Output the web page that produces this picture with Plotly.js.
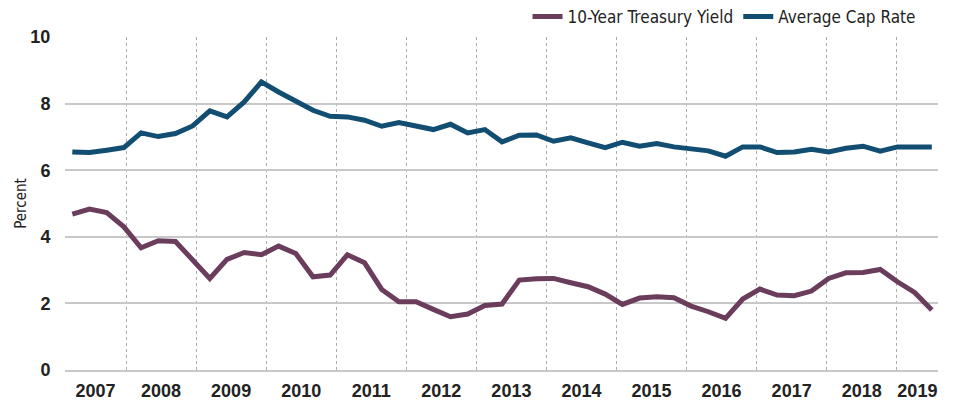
<!DOCTYPE html>
<html>
<head>
<meta charset="utf-8">
<script src="https://cdn.plot.ly/plotly-3.0.1.min.js"></script>
<style>html,body{margin:0;padding:0;background:#fff;}#chart{width:969px;height:400px;}</style>
</head>
<body>
<div id="chart"></div>
<script>
// Quarterly observations, 2007 Q1 through 2019 Q3
const years = [2007,2008,2009,2010,2011,2012,2013,2014,2015,2016,2017,2018,2019];
const quarters = [];
for (const y of years) for (let q = 1; q <= 4; q++) quarters.push(y + ' Q' + q);
quarters.length = 51;

const treasuryYield = [
  4.68,4.83,4.73,4.30, 3.67,3.88,3.86,3.30, 2.75,3.32,3.53,3.46,
  3.72,3.50,2.80,2.85, 3.46,3.22,2.42,2.05, 2.05,1.82,1.60,1.68,
  1.94,1.98,2.70,2.74, 2.75,2.62,2.50,2.28, 1.97,2.16,2.20,2.17,
  1.92,1.75,1.55,2.13, 2.43,2.25,2.23,2.37, 2.75,2.92,2.93,3.02,
  2.65,2.33,1.80
];
const capRate = [
  6.55,6.53,6.60,6.68, 7.12,7.01,7.10,7.33, 7.78,7.60,8.05,8.65,
  8.35,8.08,7.80,7.62, 7.60,7.50,7.32,7.43, 7.32,7.22,7.38,7.12,
  7.22,6.85,7.05,7.06, 6.87,6.97,6.82,6.68, 6.84,6.72,6.80,6.70,
  6.64,6.58,6.42,6.70, 6.70,6.53,6.55,6.63, 6.55,6.66,6.72,6.57,
  6.70,6.70,6.70
];
const seriesNames = ['10-Year Treasury Yield', 'Average Cap Rate'];
const yTicks = [0, 2, 4, 6, 8, 10];

// layout: x axis in quarter-index units
const idx = quarters.map((q, i) => i);
const xRange = [-0.425, 50.36];
const gridStart = 3.124, gridStep = 4.076;
const bounds = [xRange[0]];
for (let j = 0; j < years.length - 1; j++) bounds.push(gridStart + j * gridStep);
bounds.push(xRange[1]);
const labelPos = years.map((y, i) => (bounds[i] + bounds[i + 1]) / 2);

const traces = [
  {x: idx, y: treasuryYield, name: seriesNames[0], type: 'scatter', mode: 'lines',
   line: {color: '#6a3d5d', width: 5}, text: quarters, hoverinfo: 'text+y'},
  {x: idx, y: capRate, name: seriesNames[1], type: 'scatter', mode: 'lines',
   line: {color: '#114e72', width: 5}, text: quarters, hoverinfo: 'text+y'}
];

const layout = {
  width: 969, height: 400,
  margin: {l: 65, r: 31, t: 37, b: 30, autoexpand: false},
  paper_bgcolor: '#fff', plot_bgcolor: '#fff',
  showlegend: true,
  legend: {orientation: 'h', x: 0.98, xanchor: 'right', y: 1.06, yanchor: 'middle',
           font: {family: 'Liberation Sans Narrow, DejaVu Sans Condensed, sans-serif', size: 17, color: '#222'},
           bgcolor: 'rgba(0,0,0,0)'},
  xaxis: {
    type: 'linear', range: xRange, fixedrange: true, automargin: false,
    tickmode: 'array', tickvals: labelPos, ticktext: years.map(String),
    showgrid: false, zeroline: false,
    ticks: 'outside', ticklen: 3, tickcolor: 'rgba(0,0,0,0)',
    tickfont: {family: 'Liberation Sans, Arial, sans-serif', size: 18, color: '#222', weight: 'bold'},
    showline: true, linecolor: '#c8c8c8', linewidth: 2,
    minor: {tick0: gridStart, dtick: gridStep, showgrid: true, gridcolor: '#ababab', gridwidth: 1, griddash: 'dot', ticks: ''}
  },
  yaxis: {
    range: [0, 10], fixedrange: true, automargin: false,
    tickmode: 'array', tickvals: yTicks,
    showgrid: true, gridcolor: '#c8c8c8', gridwidth: 2, zeroline: false,
    ticks: 'outside', ticklen: 10, tickcolor: 'rgba(0,0,0,0)',
    tickfont: {family: 'Liberation Sans, Arial, sans-serif', size: 18, color: '#222', weight: 'bold'},
    title: {text: 'Percent', standoff: 0,
            font: {family: 'Liberation Sans Narrow, DejaVu Sans Condensed, sans-serif', size: 15, color: '#222'}}
  }
};

Plotly.newPlot('chart', traces, layout, {displayModeBar: false, staticPlot: true});
</script>
</body>
</html>
